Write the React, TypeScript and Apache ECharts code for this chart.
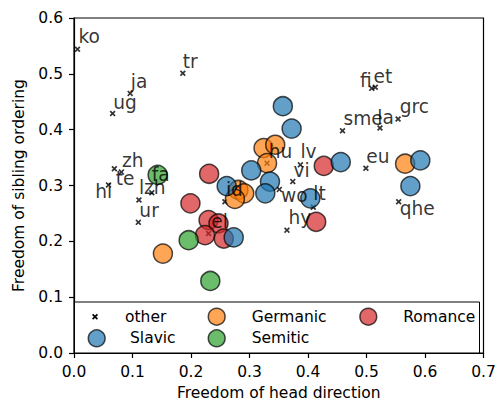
import React, { useEffect, useRef } from 'react';
import * as echarts from 'echarts';

// ---- data ----
const otherNames = ['ko', 'tr', 'ja', 'ug', 'zh', 'te', 'hi', 'fa', 'lzh', 'ur', 'hu', 'id', 'el', 'wo', 'vi', 'lv', 'lt', 'hy', 'eu', 'sme', 'la', 'grc', 'fi', 'et', 'qhe'];
const otherX = [0.006, 0.186, 0.096, 0.066, 0.081, 0.069, 0.059, 0.133, 0.111, 0.110, 0.330, 0.258, 0.230, 0.351, 0.374, 0.387, 0.409, 0.364, 0.499, 0.459, 0.523, 0.554, 0.509, 0.515, 0.555];
const otherY = [0.544, 0.501, 0.465, 0.429, 0.324, 0.330, 0.301, 0.287, 0.274, 0.234, 0.340, 0.271, 0.214, 0.293, 0.307, 0.337, 0.261, 0.220, 0.331, 0.398, 0.403, 0.419, 0.474, 0.476, 0.271];

const slavicX = [0.357, 0.372, 0.303, 0.261, 0.335, 0.327, 0.273, 0.404, 0.456, 0.592, 0.575];
const slavicY = [0.442, 0.402, 0.327, 0.299, 0.307, 0.286, 0.207, 0.277, 0.342, 0.345, 0.299];

const germanicX = [0.324, 0.344, 0.330, 0.281, 0.291, 0.275, 0.152, 0.566];
const germanicY = [0.367, 0.373, 0.340, 0.292, 0.286, 0.276, 0.178, 0.339];

const romanceX = [0.231, 0.199, 0.230, 0.247, 0.224, 0.256, 0.427, 0.414];
const romanceY = [0.321, 0.268, 0.238, 0.232, 0.211, 0.205, 0.335, 0.235];

const semiticX = [0.143, 0.196, 0.233];
const semiticY = [0.319, 0.202, 0.129];

const legendNames = ['other', 'Germanic', 'Romance', 'Slavic', 'Semitic'];

// ---- styling / placement ----
const otherLabelOffsets: [number, number][] = [
  [1, -12.4], [0, -11.4], [0.7, -11.4], [0.6, -11.4], [0.7, -12], [1.4, 9.6], [-13.3, 6.9], [0, -18.1],
  [0, -12.1], [1, -12], [1.6, -11.4], [1, -12.4], [2.7, -12.4], [1.7, 6], [0.6, -11.4], [0, -13.1],
  [0, -13.7], [1.6, -13.1], [0.3, -12], [1, -12.1], [-2.7, -10.8], [1.6, -12.1], [-11.7, -7.4], [-1.7, -10.4], [1, 6.9],
];
const legendSlots: { cx: number; cy: number; tx: number }[] = [
  { cx: 95, cy: 316.7, tx: 125 },
  { cx: 216.7, cy: 316.7, tx: 251.7 },
  { cx: 368.3, cy: 316.7, tx: 403.3 },
  { cx: 96.7, cy: 338.3, tx: 130 },
  { cx: 216.7, cy: 338.3, tx: 251.7 },
];
const groupColors: Record<string, string> = {
  Germanic: '#ff7f0e', Romance: '#d62728', Slavic: '#1f77b4', Semitic: '#2ca02c',
};

const FONT = 'DejaVu Sans';
const X_PTS = [[0, 2], [2, 0], [5, 3], [8, 0], [10, 2], [7, 5], [10, 8], [8, 10], [5, 7], [2, 10], [0, 8], [3, 5]];
const X_SYMBOL = 'path://' + X_PTS.map((p, i) => (i ? 'L' : 'M') + p[0] + ',' + p[1]).join(' ') + ' Z';

const zip = (xs: number[], ys: number[]) => xs.map((x, i) => [x, ys[i]]);

function circleSeries(name: string, xs: number[], ys: number[]) {
  return {
    name,
    type: 'scatter',
    symbol: 'circle',
    symbolSize: 19,
    itemStyle: { color: groupColors[name], borderColor: '#000', borderWidth: 1.5, opacity: 0.7 },
    data: zip(xs, ys),
    z: 2,
  };
}

function legendGraphics() {
  const els: any[] = [
    {
      type: 'rect', z: 3, silent: true,
      shape: { x: 74.5, y: 302, width: 405, height: 51 },
      style: { fill: '#fff', stroke: '#000', lineWidth: 1 },
    },
  ];
  legendNames.forEach((n, i) => {
    const s = legendSlots[i];
    if (n === 'other') {
      els.push({
        type: 'polygon', z: 4, silent: true,
        shape: { points: X_PTS.map((p) => [s.cx - 3 + p[0] * 0.6, s.cy - 3 + p[1] * 0.6]) },
        style: { fill: '#000' },
      });
    } else {
      els.push({
        type: 'circle', z: 4, silent: true,
        shape: { cx: s.cx, cy: s.cy, r: 8.4 },
        style: { fill: groupColors[n], stroke: '#000', lineWidth: 1.5, opacity: 0.7 },
      });
    }
    els.push({
      type: 'text', z: 4, silent: true, x: s.tx, y: s.cy,
      style: { text: n, fontFamily: FONT, fontSize: 15.5, fill: '#000', verticalAlign: 'middle', align: 'left' },
    });
  });
  return els;
}

export default function App() {
  const ref = useRef<HTMLDivElement>(null);
  useEffect(() => {
    const chart = echarts.init(ref.current!, null, { renderer: 'svg' });
    chart.setOption({
      animation: false,
      backgroundColor: '#fff',
      grid: {
        left: 74, right: 13.5, top: 18, bottom: 50, show: true, borderColor: '#000', borderWidth: 1.2,
        backgroundColor: 'transparent', containLabel: false, outerBoundsMode: 'none',
      },
      xAxis: {
        type: 'value', min: 0, max: 0.7, interval: 0.1,
        name: 'Freedom of head direction', nameLocation: 'middle', nameGap: 30,
        nameTextStyle: { fontFamily: FONT, fontSize: 15.5, color: '#000' },
        axisLine: { show: true, lineStyle: { color: '#000', width: 1.2 } },
        axisTick: { show: true, length: 5, lineStyle: { color: '#000', width: 1.2 } },
        axisLabel: { margin: 11, fontFamily: FONT, fontSize: 15.5, color: '#000', formatter: (v: number) => v.toFixed(1) },
        splitLine: { show: false },
      },
      yAxis: {
        type: 'value', min: 0, max: 0.6, interval: 0.1,
        name: 'Freedom of sibling ordering', nameLocation: 'middle', nameGap: 45, nameRotate: 90,
        nameTextStyle: { fontFamily: FONT, fontSize: 15.5, color: '#000' },
        axisLine: { show: true, lineStyle: { color: '#000', width: 1.2 } },
        axisTick: { show: true, length: 5, lineStyle: { color: '#000', width: 1.2 } },
        axisLabel: { margin: 11, fontFamily: FONT, fontSize: 15.5, color: '#000', formatter: (v: number) => v.toFixed(1) },
        splitLine: { show: false },
      },
      graphic: legendGraphics(),
      series: [
        {
          name: 'other',
          type: 'scatter',
          symbol: X_SYMBOL,
          symbolSize: 6,
          itemStyle: { color: '#000' },
          z: 2,
          label: {
            show: true, position: 'inside', align: 'left', verticalAlign: 'middle',
            formatter: '{b}', fontFamily: FONT, fontSize: 18.6, color: '#000',
          },
          data: otherNames.map((n, i) => ({
            name: n,
            value: [otherX[i], otherY[i]],
            label: { offset: otherLabelOffsets[i] },
          })),
        },
        circleSeries('Germanic', germanicX, germanicY),
        circleSeries('Romance', romanceX, romanceY),
        circleSeries('Slavic', slavicX, slavicY),
        circleSeries('Semitic', semiticX, semiticY),
      ],
    });
    return () => chart.dispose();
  }, []);
  return <div ref={ref} style={{ position: 'fixed', left: 0, top: 0, width: 497, height: 403, background: '#fff' }} />;
}
